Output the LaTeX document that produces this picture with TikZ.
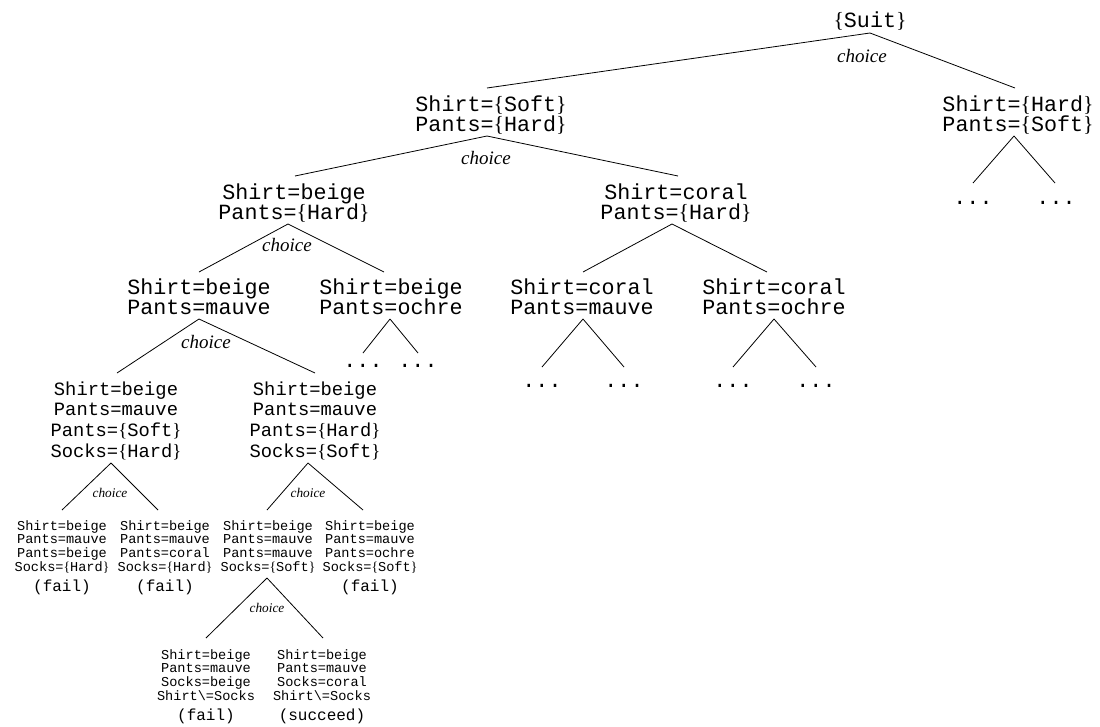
\documentclass[tikz,border=0pt]{standalone}
\usepackage{fontspec}
\setmainfont{Liberation Serif}
\setmonofont{Liberation Mono}
\usetikzlibrary{calc}
\newcommand\lb{{\rmfamily\{}}
\newcommand\rb{{\rmfamily\}}}
\newcommand\stk[1]{\vtop{\lineskiplimit=-\maxdimen\halign{\hfil##\hfil\cr#1\crcr}}}
\newcommand\conn[6]{\draw[edge] ($(#1.base)+(#2,#3)$) -- ($(#4.base)+(#5,#6)$);}
\tikzset{
  edge/.style={line width=0.8pt, black},
  bigt/.style={anchor=base, inner sep=0pt, font=\fontsize{21.7}{20}\selectfont\ttfamily},
  midt/.style={anchor=base, inner sep=0pt, font=\fontsize{18.8}{20.7}\selectfont\ttfamily},
  smallt/.style={anchor=base, inner sep=0pt, font=\fontsize{13.6}{13.7}\selectfont\ttfamily},
  result/.style={anchor=base, inner sep=0pt, font=\fontsize{16}{16}\selectfont\ttfamily},
  dotst/.style={anchor=base, inner sep=0pt, font=\fontsize{21.7}{20}\selectfont\ttfamily},
  lbl/.style={anchor=base, inner sep=0pt, font=\fontsize{19}{19}\selectfont\itshape},
  slbl/.style={anchor=base, inner sep=0pt, font=\fontsize{13.3}{13.3}\selectfont\itshape},
}
\begin{document}
\begin{tikzpicture}[x=1pt,y=-1pt]
\fill[white] (0,0) rectangle (1100,726);
\path[use as bounding box] (0,0) rectangle (1100,726);
% level 0
\node[bigt] (root) at (870,27) {\lb Suit\rb};
% level 1
\node[bigt] (n1) at (491,111) {\stk{Shirt=\lb Soft\rb\cr Pants=\lb Hard\rb}};
\node[bigt] (n2) at (1018,111) {\stk{Shirt=\lb Hard\rb\cr Pants=\lb Soft\rb}};
% level 2
\node[bigt] (n3) at (294,199) {\stk{Shirt=beige\cr Pants=\lb Hard\rb}};
\node[bigt] (n4) at (676,199) {\stk{Shirt=coral\cr Pants=\lb Hard\rb}};
\node[dotst] (d1) at (973,204) {...};
\node[dotst] (d2) at (1056,204) {...};
% level 3
\node[bigt] (n5) at (199,294) {\stk{Shirt=beige\cr Pants=mauve}};
\node[bigt] (n6) at (391,294) {\stk{Shirt=beige\cr Pants=ochre}};
\node[bigt] (n7) at (582,294) {\stk{Shirt=coral\cr Pants=mauve}};
\node[bigt] (n8) at (774,294) {\stk{Shirt=coral\cr Pants=ochre}};
\node[dotst] (d3) at (363,367) {...};
\node[dotst] (d4) at (418,367) {...};
\node[dotst] (d5) at (542,387) {...};
\node[dotst] (d6) at (624,387) {...};
\node[dotst] (d7) at (733,387) {...};
\node[dotst] (d8) at (816,387) {...};
% level 4
\node[midt] (n9) at (116,395) {\stk{Shirt=beige\cr Pants=mauve\cr Pants=\lb Soft\rb\cr Socks=\lb Hard\rb}};
\node[midt] (n10) at (315,395) {\stk{Shirt=beige\cr Pants=mauve\cr Pants=\lb Hard\rb\cr Socks=\lb Soft\rb}};
% level 5
\node[smallt] (s1) at (62,530) {\stk{Shirt=beige\cr Pants=mauve\cr Pants=beige\cr Socks=\lb Hard\rb}};
\node[smallt] (s2) at (165,530) {\stk{Shirt=beige\cr Pants=mauve\cr Pants=coral\cr Socks=\lb Hard\rb}};
\node[smallt] (s3) at (268,530) {\stk{Shirt=beige\cr Pants=mauve\cr Pants=mauve\cr Socks=\lb Soft\rb}};
\node[smallt] (s4) at (370,530) {\stk{Shirt=beige\cr Pants=mauve\cr Pants=ochre\cr Socks=\lb Soft\rb}};
\node[result] (f1) at (62,591) {(fail)};
\node[result] (f2) at (165,591) {(fail)};
\node[result] (f4) at (370,591) {(fail)};
% level 6
\node[smallt] (b1) at (206,659) {\stk{Shirt=beige\cr Pants=mauve\cr Socks=beige\cr Shirt\textbackslash=Socks}};
\node[smallt] (b2) at (322,659) {\stk{Shirt=beige\cr Pants=mauve\cr Socks=coral\cr Shirt\textbackslash=Socks}};
\node[result] (f5) at (206,720) {(fail)};
\node[result] (f6) at (322,720) {(succeed)};
% choice labels
\node[lbl] (c1) at (862,62) {choice};
\node[lbl] (c2) at (486,164) {choice};
\node[lbl] (c3) at (287,251) {choice};
\node[lbl] (c4) at (206,348) {choice};
\node[slbl] (c5) at (110,497) {choice};
\node[slbl] (c6) at (308,497) {choice};
\node[slbl] (c7) at (267,612) {choice};
% connectors
\conn{root}{0}{6}{n1}{-4}{-23}
\conn{root}{0}{6}{n2}{-3}{-23}
\conn{n1}{-4}{25}{n3}{1}{-23}
\conn{n1}{-4}{25}{n4}{2}{-23}
\conn{n2}{-4}{25}{d1}{0}{-21}
\conn{n2}{-4}{25}{d2}{-1}{-21}
\conn{n3}{-6}{25}{n5}{0}{-22}
\conn{n3}{-6}{25}{n6}{-7}{-22}
\conn{n4}{-4}{25}{n7}{1}{-22}
\conn{n4}{-4}{25}{n8}{-7}{-22}
\conn{n5}{0}{25}{n9}{1}{-22}
\conn{n5}{0}{25}{n10}{0}{-22}
\conn{n6}{-1}{25}{d3}{0}{-14}
\conn{n6}{-1}{25}{d4}{0}{-14}
\conn{n7}{1}{25}{d5}{0}{-20}
\conn{n7}{1}{25}{d6}{0}{-20}
\conn{n8}{0}{25}{d7}{0}{-20}
\conn{n8}{0}{25}{d8}{0}{-20}
\conn{n9}{-5}{68}{s1}{0}{-20}
\conn{n9}{-5}{68}{s2}{-7}{-20}
\conn{n10}{-7}{68}{s3}{-1}{-20}
\conn{n10}{-7}{68}{s4}{-7}{-20}
\conn{s3}{-1}{48}{b1}{0}{-21}
\conn{s3}{-1}{48}{b2}{1}{-21}
\end{tikzpicture}
\end{document}
